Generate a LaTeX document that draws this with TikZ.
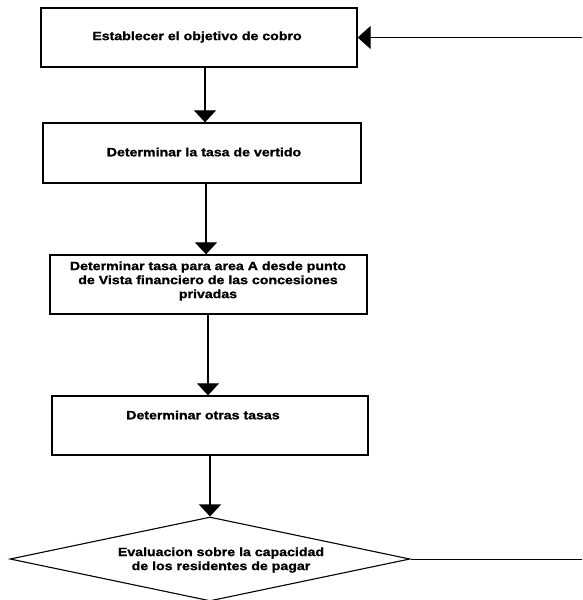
\documentclass[tikz,border=0pt]{standalone}
\usepackage{fontspec}
\setmainfont{Liberation Sans}[FakeStretch=1.18,FakeBold=1.2]
\usetikzlibrary{arrows.meta,shapes.geometric}

\begin{document}
\begin{tikzpicture}[x=1pt,y=-1pt,
  box/.style={draw,line width=1.3pt,inner sep=0pt},
  decision/.style={draw,diamond,line width=1.1pt,inner sep=0pt,
    minimum width=400pt,minimum height=84pt},
  lbl/.style={font=\fontsize{12}{14}\selectfont\bfseries,align=center,inner sep=0pt},
  flow/.style={line width=1.1pt,-{Triangle[width=22pt,length=12pt]}},
  loopline/.style={line width=0.9pt}]
\useasboundingbox (0,0) rectangle (582,600);
\fill[white] (0,0) rectangle (582,600);

% process boxes
\node[box,minimum width=316pt,minimum height=59pt] (b1) at (199,37.5) {};
\node[box,minimum width=318pt,minimum height=60pt] (b2) at (202,153) {};
\node[box,minimum width=317pt,minimum height=59pt] (b3) at (208.5,284.5) {};
\node[box,minimum width=316pt,minimum height=59pt] (b4) at (210,425.5) {};
\node[decision] (d) at (210,559) {};

% labels
\node[lbl] (t1) at (197,37) {Establecer el objetivo de cobro};
\node[lbl] (t2) at (204,152) {Determinar la tasa de vertido};
\node[lbl] (t3) at (208,281) {Determinar tasa para area A desde punto\\de Vista financiero de las concesiones\\privadas};
\node[lbl] (t4) at (203,415) {Determinar otras tasas};
\node[lbl] (t5) at (221,560) {Evaluacion sobre la capacidad\\de los residentes de pagar};

% main flow
\draw[flow] ([xshift=6pt]b1.south) -- ([xshift=3pt]b2.north);
\draw[flow] ([xshift=4pt]b2.south) -- ([xshift=-2.5pt]b3.north);
\draw[flow] ([xshift=-0.5pt]b3.south) -- ([xshift=-2pt]b4.north);
\draw[flow] (b4.south) -- (d.north);

% feedback loop ends
\coordinate (e1) at (582,37.5);
\coordinate (e2) at (582,559);
\draw[loopline,-{Triangle[width=23pt,length=13pt]}] (e1) -- (b1.east);
\draw[loopline] (d.east) -- (e2);
\end{tikzpicture}
\end{document}
